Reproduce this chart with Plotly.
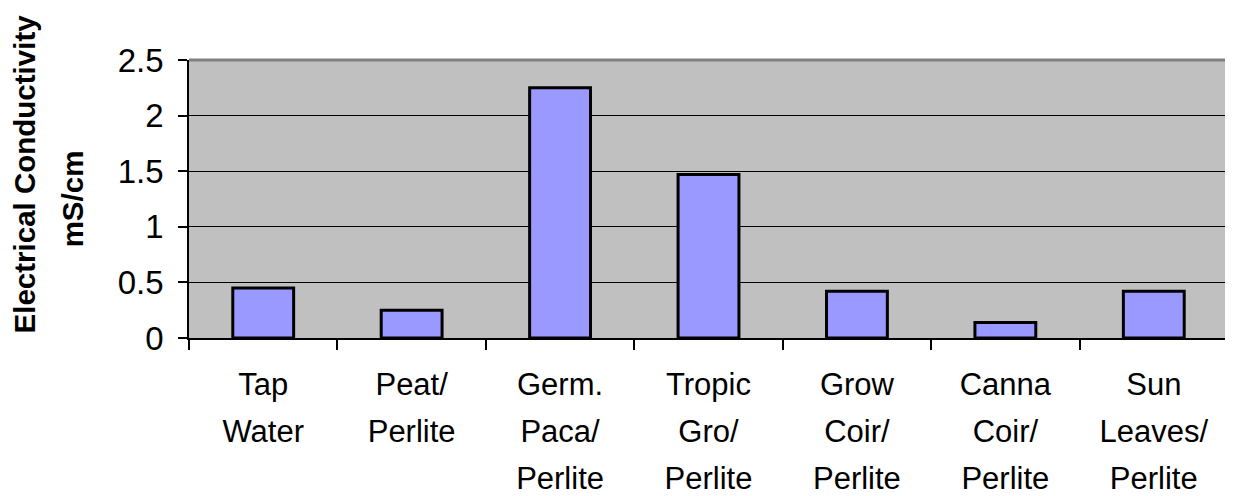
import plotly.graph_objects as go

categories = ["Tap<br>Water", "Peat/<br>Perlite", "Germ.<br>Paca/<br>Perlite",
              "Tropic<br>Gro/<br>Perlite", "Grow<br>Coir/<br>Perlite",
              "Canna<br>Coir/<br>Perlite", "Sun<br>Leaves/<br>Perlite"]
ec_values = [0.45, 0.25, 2.25, 1.47, 0.42, 0.14, 0.42]
y_title_lines = ["&nbsp;&nbsp;&nbsp;&nbsp;&nbsp;&nbsp;Electrical Conductivity", "mS/cm"]

FONT = "Arial, Liberation Sans, sans-serif"


def spaced(text, px):
    return "<br>".join(f"<span style='font-size:{px}px'>{ln}</span>" for ln in text.split("<br>"))


tick_text = [spaced(c, 31) for c in categories]
title_text = "<br>".join(f"<span style='font-size:29.5px'><b>{ln}</b></span>" for ln in y_title_lines)

fig = go.Figure()
fig.add_trace(go.Bar(
    x=categories, y=ec_values,
    marker=dict(color="#9999FF", line=dict(color="#000000", width=3)),
))

fig.update_layout(
    width=1225, height=488,
    margin=dict(l=181, r=5, t=52, b=158, autoexpand=False),
    paper_bgcolor="white", plot_bgcolor="#C0C0C0",
    bargap=0.59, showlegend=False,
    font=dict(family=FONT, color="black"),
    shapes=[
        dict(type="line", xref="paper", yref="paper", x0=0, x1=1, y0=1, y1=1,
             line=dict(color="#808080", width=3)),
        dict(type="line", xref="paper", yref="paper", x0=1, x1=1, y0=0, y1=1,
             line=dict(color="#808080", width=3)),
    ],
)
fig.update_xaxes(
    type="category", tickmode="array", tickvals=categories, ticktext=tick_text,
    tickson="boundaries", ticks="outside", ticklen=10, tickwidth=1.5, tickcolor="black",
    showline=True, linecolor="black", linewidth=2,
    showgrid=False, tickfont=dict(size=36, family=FONT, color="black"),
    ticklabelstandoff=12,
)
fig.update_yaxes(
    range=[0, 2.5], dtick=0.5, tick0=0,
    ticks="outside", ticklen=9, tickwidth=1.5, tickcolor="black",
    showline=True, linecolor="black", linewidth=1.5,
    showgrid=True, gridcolor="black", gridwidth=1, zeroline=False,
    tickfont=dict(size=33, family=FONT, color="black"),
    ticklabelstandoff=8,
    title=dict(text=title_text, font=dict(size=37, family=FONT, color="black"), standoff=25),
)

fig.write_html("out.html")
